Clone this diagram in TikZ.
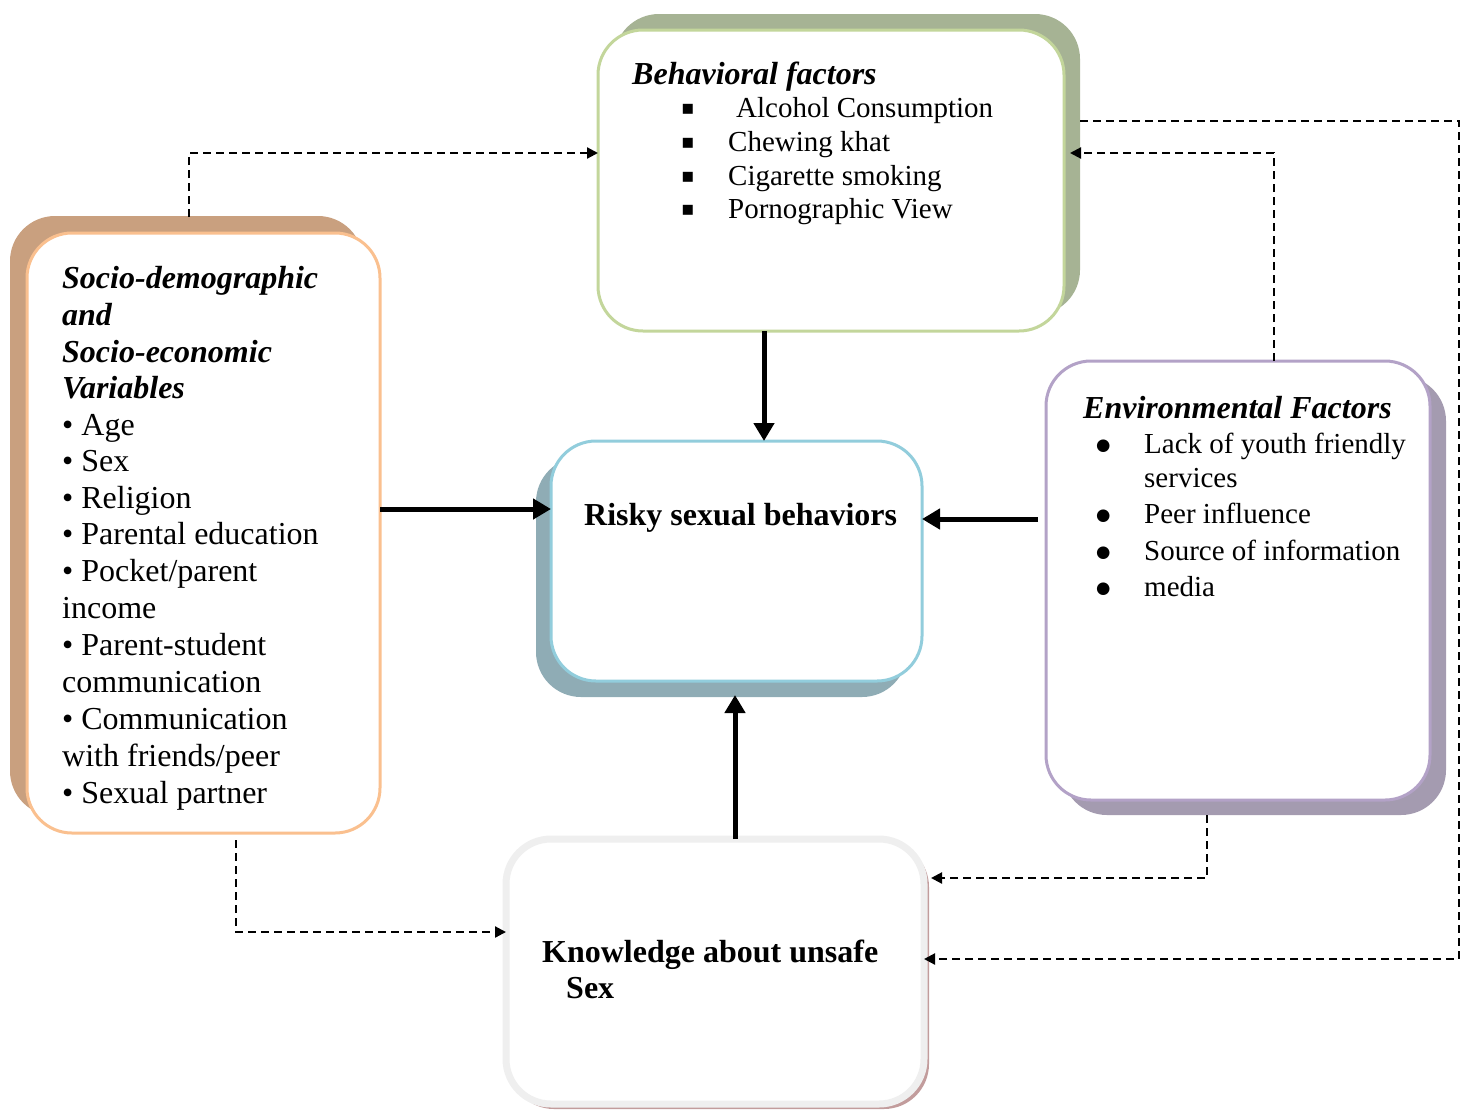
\documentclass[tikz,border=0pt]{standalone}
\usepackage{fontspec}
\setmainfont{Liberation Serif}
\newfontfamily\dejavu{DejaVu Sans}
\usetikzlibrary{arrows.meta}
\definecolor{begB}{HTML}{C3D69B}\definecolor{begS}{HTML}{A6B394}
\definecolor{socB}{HTML}{FAC08F}\definecolor{socS}{HTML}{C9A07F}
\definecolor{riskB}{HTML}{92CDDC}\definecolor{riskS}{HTML}{8FACB5}
\definecolor{envB}{HTML}{B3A2C7}\definecolor{envS}{HTML}{A49BB0}
\definecolor{knowB}{HTML}{EFEFEF}\definecolor{knowS}{HTML}{C29C9C}
\begin{document}
\begin{tikzpicture}[x=1pt,y=-1pt,
  box/.style={draw, line width=3pt, fill=white, rounded corners=45pt, inner sep=0pt, outer sep=0pt},
  shad/.style={rounded corners=45pt},
  txt/.style={anchor=base west, inner sep=0pt, align=left},
  solidarrow/.style={line width=5pt, -{Triangle[length=18pt,width=20pt]}},
  dasharrow/.style={line width=2.2pt, dash pattern=on 8pt off 5pt, -{Triangle[length=11pt,width=11pt]}},
  fbeh/.style={font=\fontsize{29}{34}\selectfont},
  fsoc/.style={font=\fontsize{32}{36.7}\selectfont},
  fenv/.style={font=\fontsize{29}{36}\selectfont},
  fdot/.style={font=\dejavu\fontsize{16.5}{16.5}\selectfont},
  ftitle/.style={font=\fontsize{32}{36.7}\selectfont\bfseries\itshape},
  fbold/.style={font=\fontsize{32}{36}\selectfont\bfseries}]
\useasboundingbox (0,0) rectangle (1461,1112);
% shadows
\fill[begS, shad] (614,14) rectangle (1080,315);
\fill[socS, shad] (10,216) rectangle (363,816);
\fill[riskS, shad] (536,457) rectangle (907,697);
\fill[envS, shad] (1062,376) rectangle (1446,815);
\fill[knowS, shad] (509,842) rectangle (929,1109);
% boxes
\node[box, draw=begB, minimum width=466pt, minimum height=301pt] (beh) at (831,180.5) {};
\node[box, draw=socB, minimum width=353pt, minimum height=600pt] (soc) at (203.5,533) {};
\node[box, draw=riskB, minimum width=371pt, minimum height=240pt] (risk) at (736.5,561) {};
\node[box, draw=envB, minimum width=384pt, minimum height=439pt] (env) at (1238,580.5) {};
\node[box, draw=knowB, line width=7pt, minimum width=418pt, minimum height=265pt] (know) at (715,971.5) {};
% behavioral text
\node[txt, ftitle] (behT) at (632,84) {Behavioral factors};
\foreach \y/\x/\t/\n in {117/736/{Alcohol Consumption}/a,151/728/{Chewing khat}/b,185/728/{Cigarette smoking}/c,218/728/{Pornographic View}/d}{
  \node[txt, font=\dejavu\fontsize{20}{20}\selectfont] (behB\n) at (681,\y-3) {▪};
  \node[txt, fbeh] (behI\n) at (\x,\y) {\t};
}
% socio text
\node[txt, ftitle] (socT1) at (62,288) {Socio-demographic};
\node[txt, ftitle] (socT2) at (62,325) {and};
\node[txt, ftitle] (socT3) at (62,362) {Socio-economic};
\node[txt, ftitle] (socT4) at (62,398) {Variables};
\node[txt, fsoc] (socI1) at (62,435) {• Age};
\node[txt, fsoc] (socI2) at (62,471) {• Sex};
\node[txt, fsoc] (socI3) at (62,508) {• Religion};
\node[txt, fsoc] (socI4) at (62,544) {• Parental education};
\node[txt, fsoc] (socI5) at (62,581) {• Pocket/parent};
\node[txt, fsoc] (socI6) at (62,618) {income};
\node[txt, fsoc] (socI7) at (62,655) {• Parent-student};
\node[txt, fsoc] (socI8) at (62,692) {communication};
\node[txt, fsoc] (socI9) at (62,729) {• Communication};
\node[txt, fsoc] (socI10) at (62,766) {with friends/peer};
\node[txt, fsoc] (socI11) at (62,803) {• Sexual partner};
% risky
\node[txt, fbold] (riskT) at (584,525) {Risky sexual behaviors};
% environmental
\node[txt, ftitle] (envT) at (1083,418) {Environmental Factors};
\foreach \y/\n in {453/a,523/c,560/d,596/e}{
  \node[txt, fdot] (envB\n) at (1096,\y-2.5) {●};
}
\node[txt, fenv] (envIa) at (1144,453) {Lack of youth friendly};
\node[txt, fenv] (envIb) at (1144,487) {services};
\node[txt, fenv] (envIc) at (1144,523) {Peer influence};
\node[txt, fenv] (envId) at (1144,560) {Source of information};
\node[txt, fenv] (envIe) at (1144,596) {media};
% knowledge
\node[txt, fbold] (knowT1) at (542,962) {Knowledge about unsafe};
\node[txt, fbold] (knowT2) at (566,998) {Sex};
% solid arrows
\draw[solidarrow] ([xshift=-67pt]beh.south) -- ([xshift=27.5pt]risk.north);
\draw[solidarrow] ([yshift=24pt]soc.east) -- ([yshift=52pt]risk.west);
\draw[solidarrow] ([xshift=-8pt,yshift=61.5pt]env.west) -- ([yshift=42pt]risk.east);
\draw[solidarrow] ([xshift=20pt]know.north) -- ([xshift=-1.5pt,yshift=-14pt]risk.south);
% dashed arrows
\coordinate (farR) at (1459,121);
\draw[dasharrow] ([xshift=-14.5pt,yshift=16pt]soc.north) |- ([yshift=27.5pt]beh.west);
\draw[dasharrow] ([xshift=36pt]env.north) |- ([xshift=6pt,yshift=27.5pt]beh.east);
\draw[dasharrow] ([xshift=16pt,yshift=59.5pt]beh.east) -- (farR) |- ([yshift=12.5pt]know.east);
\draw[dasharrow] ([xshift=-31pt,yshift=-15pt]env.south) |- ([xshift=7pt,yshift=93.5pt]know.east);
\draw[dasharrow] ([xshift=32.5pt,yshift=-7pt]soc.south) |- ([yshift=39.5pt]know.west);
\end{tikzpicture}
\end{document}
